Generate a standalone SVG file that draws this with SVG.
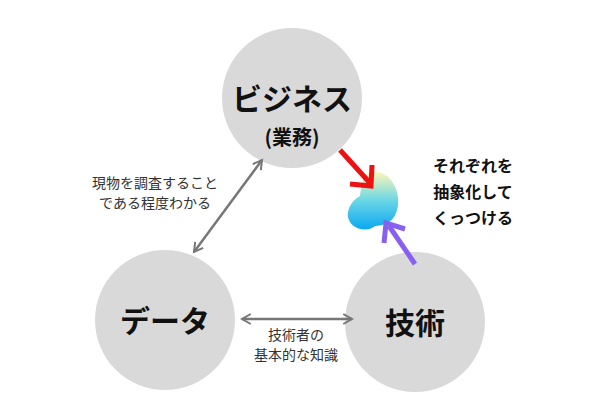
<svg xmlns="http://www.w3.org/2000/svg" width="600" height="400" viewBox="0 0 600 400">
<defs>
<style>
.c{fill:#d9d9d9}
.big{font-family:"Noto Sans CJK JP",sans-serif;font-weight:bold;fill:#111}
.sm{font-family:"Noto Sans CJK JP",sans-serif;font-size:14px;fill:#333}
.conn{stroke:#777;stroke-width:2.5;fill:none;marker-start:url(#g);marker-end:url(#g)}
</style>
<marker id="g" viewBox="0 0 10 10" refX="8" refY="5" markerWidth="5" markerHeight="5" orient="auto-start-reverse"><path d="M1,1 L8,5 L1,9" fill="none" stroke="#777" stroke-width="1.6"/></marker>
<linearGradient id="bl" x1="0" y1="0" x2="0" y2="1"><stop offset="0" stop-color="#fdf7b8"/><stop offset="0.5" stop-color="#6ad6e6"/><stop offset="1" stop-color="#0aa8f0"/></linearGradient>
</defs>
<rect width="600" height="400" fill="#fff"/>
<g id="biz"><circle class="c" cx="292" cy="98" r="70"/><text class="big" x="292" y="110" font-size="30" text-anchor="middle">ビジネス</text><text class="big" x="292" y="145" font-size="20" text-anchor="middle">(業務)</text></g>
<g id="data"><circle class="c" cx="165" cy="320" r="70"/><text class="big" x="165" y="332" font-size="30" text-anchor="middle">データ</text></g>
<g id="tech"><circle class="c" cx="415" cy="322" r="70"/><text class="big" x="415" y="334" font-size="30" text-anchor="middle">技術</text></g>
<g id="blob"><path d="M372,172 C390,170 400,190 398,205 C396,220 388,225 375,226 C368,232 355,230 350,222 C344,212 352,200 360,196 C362,185 362,173 372,172 Z" fill="url(#bl)"/></g>
<g id="connectors">
<line class="conn" x1="262" y1="160" x2="194" y2="252"/>
<line class="conn" x1="242" y1="319" x2="352" y2="319"/>
<path d="M340,150 L370,183" stroke="#ee1111" stroke-width="5" fill="none"/>
<path d="M350,184 L371,186 L372,165" stroke="#ee1111" stroke-width="5" fill="none" stroke-linejoin="miter"/>
<path d="M415,264 L389,226" stroke="#8860f0" stroke-width="5" fill="none"/>
<path d="M384,243 L386,223 L405,229" stroke="#8860f0" stroke-width="5" fill="none"/>
</g>
<g id="labels">
<text class="sm" x="155" y="188" text-anchor="middle">現物を調査すること</text>
<text class="sm" x="155" y="208" text-anchor="middle">である程度わかる</text>
<text class="sm" x="296" y="340" text-anchor="middle">技術者の</text>
<text class="sm" x="296" y="360" text-anchor="middle">基本的な知識</text>
<text class="big" x="473" y="172" font-size="16" text-anchor="middle">それぞれを</text>
<text class="big" x="473" y="198" font-size="16" text-anchor="middle">抽象化して</text>
<text class="big" x="473" y="224" font-size="16" text-anchor="middle">くっつける</text>
</g>
</svg>
